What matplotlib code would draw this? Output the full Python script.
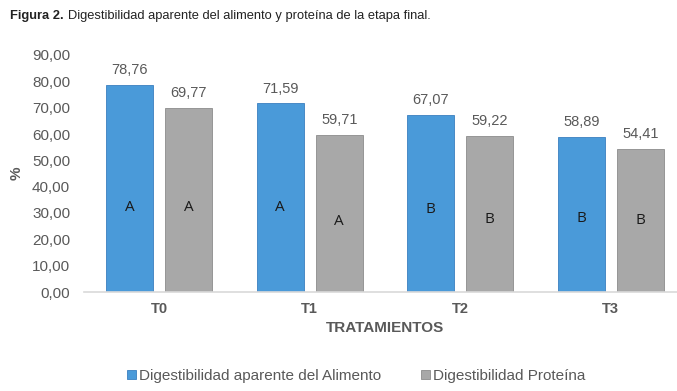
import matplotlib.pyplot as plt
import numpy as np

plt.rcParams["font.family"] = ["Liberation Sans", "DejaVu Sans"]

# datos
tratamientos = ["T0", "T1", "T2", "T3"]
dig_alimento = [78.76, 71.59, 67.07, 58.89]
dig_proteina = [69.77, 59.71, 59.22, 54.41]
letras_alimento = ["A", "A", "B", "B"]
letras_proteina = ["A", "A", "B", "B"]
# altura (en %) donde aparecen las letras dentro de las barras
letra_y_alimento = [31.9, 31.9, 31.5, 28.1]
letra_y_proteina = [31.9, 26.6, 27.7, 27.0]

azul = "#4a9ad9"
gris = "#a8a8a8"
texto = "#595959"

fig = plt.figure(figsize=(6.77, 3.91), dpi=100)
ax = fig.add_axes([84 / 677, 1 - 292 / 391, 602 / 677, 237 / 391])

x = np.arange(len(tratamientos))
w = 0.31
off = 0.196
ax.bar(x - off, dig_alimento, w, color=azul, edgecolor="#3a7fbf", linewidth=0.6,
       label="Digestibilidad aparente del Alimento")
ax.bar(x + off, dig_proteina, w, color=gris, edgecolor="#8c8c8c", linewidth=0.6,
       label="Digestibilidad Proteína")

for i in range(len(x)):
    ax.text(x[i] - off, dig_alimento[i] + 3, f"{dig_alimento[i]:.2f}".replace(".", ","),
            ha="center", va="bottom", fontsize=10.5, color=texto)
    ax.text(x[i] + off, dig_proteina[i] + 3, f"{dig_proteina[i]:.2f}".replace(".", ","),
            ha="center", va="bottom", fontsize=10.5, color=texto)
    ax.text(x[i] - off, letra_y_alimento[i], letras_alimento[i], ha="center", va="center",
            fontsize=11, color="#1a1a1a", family="Open Sans")
    ax.text(x[i] + off, letra_y_proteina[i], letras_proteina[i], ha="center", va="center",
            fontsize=11, color="#1a1a1a", family="Open Sans")

ax.set_xlim(-0.5, 3.5)
ax.set_ylim(0, 90)
ax.set_yticks(np.arange(0, 91, 10))
ax.set_yticklabels([f"{v:.2f}".replace(".", ",") for v in np.arange(0, 91, 10)],
                   fontsize=11, color=texto)
ax.set_xticks(x)
ax.set_xticklabels(tratamientos, fontsize=10.5, color=texto, fontweight="bold")
ax.tick_params(axis="both", length=0)
ax.tick_params(axis="x", pad=7)
ax.tick_params(axis="y", pad=10)

for s in ["top", "right", "left"]:
    ax.spines[s].set_visible(False)
ax.spines["bottom"].set_color("#d9d9d9")
ax.spines["bottom"].set_linewidth(1.2)

ax.set_xlabel("TRATAMIENTOS", fontsize=11, fontweight="bold", color=texto, labelpad=4)
ax.set_ylabel("%", fontsize=11, fontweight="bold", color=texto)
ax.yaxis.set_label_coords(-60 / 602, 0.5)

ax.legend(loc="center", bbox_to_anchor=((356 - 84) / 602, -84 / 237), ncol=2, frameon=False,
          fontsize=11, labelcolor=texto, handlelength=0.6, handleheight=0.6,
          handletextpad=0.2, columnspacing=2.6)

t1 = fig.text(10 / 677, 1 - 16 / 391, "Figura 2.", fontsize=9.3, fontweight="bold",
              color="#222222", va="center")
fig.canvas.draw()
bb = t1.get_window_extent()
fig.text((bb.x1 + 4) / 677, 1 - 16 / 391,
         "Digestibilidad aparente del alimento y proteína de la etapa final.",
         fontsize=9.3, color="#222222", va="center")

fig.savefig("out.png", dpi=100)
